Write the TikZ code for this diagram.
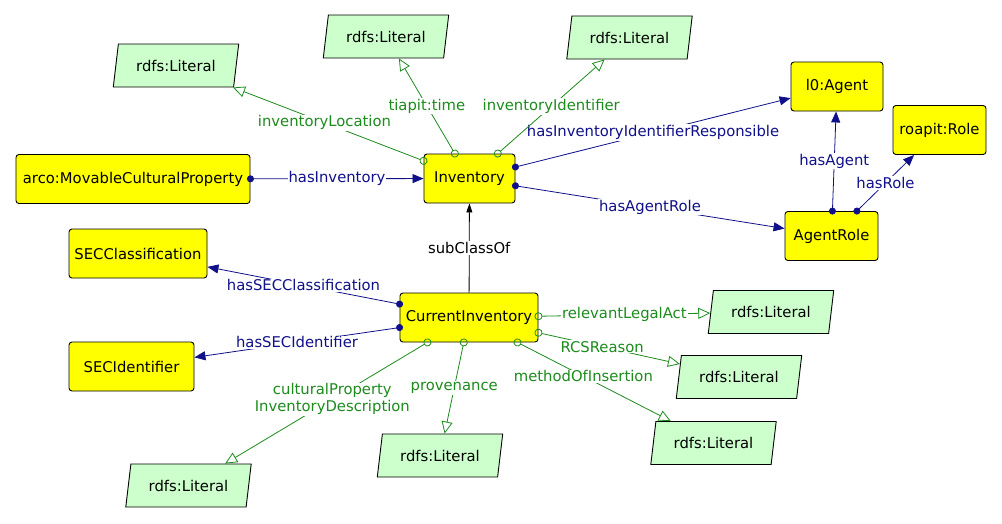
\documentclass[tikz,border=0pt]{standalone}
\usepackage{fontspec}
\setmainfont{DejaVu Sans}
\definecolor{clsyellow}{HTML}{FFFF00}
\definecolor{litgreen}{HTML}{CCFFCC}
\definecolor{dpgreen}{HTML}{1C8C1C}
\definecolor{opnavy}{HTML}{10108A}
\usetikzlibrary{shapes.geometric, arrows.meta}

\begin{document}
\begin{tikzpicture}[
  x=1pt, y=-1pt,
  every node/.style={font=\fontsize{14.8}{17}\selectfont},
  cls/.style={
    draw=black, line width=0.9pt, rounded corners=3pt, fill=clsyellow,
    minimum height=49pt, inner sep=2pt, align=center
  },
  lit/.style={
    draw=black, line width=0.9pt, fill=litgreen, trapezium, trapezium stretches=true,
    trapezium left angle=75, trapezium right angle=105,
    minimum width=126pt, minimum height=43pt, inner sep=1pt
  },
  objprop/.style={opnavy, line width=0.8pt,
    {Circle[length=7pt]}-{Triangle[length=11pt, width=9pt]}, shorten <=-3.5pt},
  dataprop/.style={dpgreen, line width=0.8pt,
    {Circle[open, length=8pt]}-{Triangle[open, length=12pt, width=11pt]}, shorten <=-4pt},
  subcls/.style={black, line width=0.8pt, -{Triangle[length=9pt, width=6pt]}},
  oplbl/.style={fill=white, text=opnavy, inner sep=1pt},
  dplbl/.style={fill=white, text=dpgreen, inner sep=1pt, align=center},
  sclbl/.style={fill=white, text=black, inner sep=1pt}
]
\useasboundingbox[fill=white] (0,0) rectangle (1002,523);

% Classes
\node[cls, minimum width=234pt] (arco)   at (133,179)   {arco:MovableCulturalProperty};
\node[cls, minimum width=91pt]  (inv)    at (469.5,178.5) {Inventory};
\node[cls, minimum width=92pt]  (agent)  at (837,86.5)  {l0:Agent};
\node[cls, minimum width=93pt]  (role)   at (939.5,130) {roapit:Role};
\node[cls, minimum width=93pt]  (agrole) at (831.5,236) {AgentRole};
\node[cls, minimum width=138pt] (seccl)  at (138,253.5) {SECClassification};
\node[cls, minimum width=138pt] (curinv) at (469,317.5) {CurrentInventory};
\node[cls, minimum width=125pt] (secid)  at (131.5,366.5) {SECIdentifier};

% Literals
\node[lit] (litloc)  at (176,65.5)  {rdfs:Literal};
\node[lit] (littime) at (386,36.5)  {rdfs:Literal};
\node[lit] (litid)   at (629.5,37.5) {rdfs:Literal};
\node[lit] (litact)  at (771,312)   {rdfs:Literal};
\node[lit] (litrcs)  at (739,377)   {rdfs:Literal};
\node[lit] (litmeth) at (713.5,443) {rdfs:Literal};
\node[lit] (litdesc) at (188.5,485.5) {rdfs:Literal};
\node[lit] (litprov) at (440,455.5) {rdfs:Literal};

% Object properties
\draw[objprop] (arco) -- node[oplbl]{hasInventory} (inv);
\draw[objprop] (inv) -- node[oplbl]{hasInventoryIdentifierResponsible} (agent);
\draw[objprop] (inv) -- node[oplbl]{hasAgentRole} (agrole);
\draw[objprop] (agrole) -- node[oplbl]{hasAgent} (agent);
\draw[objprop] (agrole) -- node[oplbl]{hasRole} (role);
\draw[objprop] (curinv) -- node[oplbl]{hasSECClassification} (seccl);
\draw[objprop] (curinv) -- node[oplbl]{hasSECIdentifier} (secid);

% Subclass
\draw[subcls] (curinv) -- node[sclbl]{subClassOf} (inv);

% Data properties
\draw[dataprop] (inv) -- node[dplbl, pos=0.52]{inventoryLocation} (litloc);
\draw[dataprop] (inv) -- node[dplbl]{tiapit:time} (littime);
\draw[dataprop] (inv) -- node[dplbl]{inventoryIdentifier} (litid);
\draw[dataprop] (curinv) -- node[dplbl]{relevantLegalAct} (litact);
\draw[dataprop] (curinv) -- node[dplbl, pos=0.45]{RCSReason} (litrcs);
\draw[dataprop] (curinv) -- node[dplbl, pos=0.43]{methodOfInsertion} (litmeth);
\draw[dataprop] (curinv) -- node[dplbl, pos=0.47]{culturalProperty\\InventoryDescription} (litdesc);
\draw[dataprop] (curinv) -- node[dplbl]{provenance} (litprov);

\end{tikzpicture}
\end{document}
